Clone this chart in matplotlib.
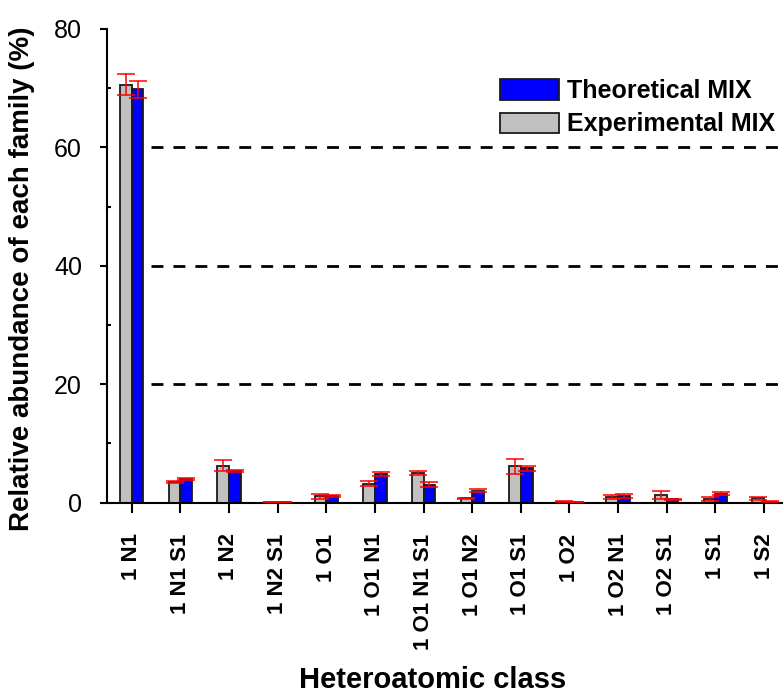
import matplotlib
matplotlib.use("Agg")
import matplotlib.pyplot as plt
import numpy as np

plt.rcParams['font.family'] = ['Liberation Sans', 'DejaVu Sans']
plt.rcParams['lines.scale_dashes'] = False

# heteroatomic classes
classes = ['1 N1', '1 N1 S1', '1 N2', '1 N2 S1', '1 O1', '1 O1 N1', '1 O1 N1 S1',
           '1 O1 N2', '1 O1 S1', '1 O2', '1 O2 N1', '1 O2 S1', '1 S1', '1 S2']

# experimental MIX (grey) with error
exp_vals = [70.6, 3.4, 6.2, 0.1, 1.05, 3.2, 5.0, 0.7, 6.1, 0.15, 0.9, 1.3, 0.6, 0.7]
exp_err = [1.8, 0.15, 0.9, 0.05, 0.4, 0.4, 0.4, 0.1, 1.3, 0.05, 0.3, 0.7, 0.3, 0.2]

# theoretical MIX (blue) with error
theo_vals = [69.8, 4.0, 5.3, 0.05, 1.1, 4.8, 3.0, 2.0, 5.8, 0.05, 1.05, 0.55, 1.5, 0.15]
theo_err = [1.47, 0.15, 0.2, 0.03, 0.1, 0.35, 0.4, 0.2, 0.4, 0.02, 0.35, 0.1, 0.25, 0.05]

grid_levels = [20, 40, 60]

fig = plt.figure(figsize=(7.83, 6.93), dpi=100)
ax = fig.add_axes([107/783, 1 - 502.5/693, 676/783, 473.5/693])

x = np.arange(len(classes))
w = 0.24

# dashed reference lines
ax.hlines(grid_levels, 0.39, 13.6, colors='black', linewidth=2,
          linestyles=[(0, (8.6, 7.2))], zorder=1)

eb = dict(ecolor='red', elinewidth=1.1, capsize=6.5, capthick=1.1)
ax.bar(x - w/2, exp_vals, w, color='#C0C0C0', edgecolor='#1a1a1a', linewidth=1.3,
       label='Experimental MIX', zorder=2)
ax.bar(x + w/2, theo_vals, w, color='#0000FF', edgecolor='#1a1a1a', linewidth=1.3,
       label='Theoretical MIX', zorder=2)
ax.errorbar(x - w/2, exp_vals, yerr=exp_err, fmt='none', zorder=3, **eb)
ax.errorbar(x + w/2, theo_vals, yerr=theo_err, fmt='none', zorder=3, **eb)

ax.set_xlim(-0.508, 13.39)
ax.set_ylim(0, 80)
ax.set_yticks([0, 20, 40, 60, 80])
ax.set_yticks([10, 30, 50, 70], minor=True)
ax.set_xticks(x)
ax.set_xticklabels(classes, rotation=90, fontsize=16, fontweight='bold')

for s in ['top', 'right']:
    ax.spines[s].set_visible(False)
for s in ['left', 'bottom']:
    ax.spines[s].set_linewidth(1.5)

ax.tick_params(axis='y', which='major', direction='out', length=5, width=1.5,
               labelsize=18, pad=13)
ax.tick_params(axis='y', which='minor', direction='in', length=3, width=1.5)
ax.tick_params(axis='x', which='major', direction='out', length=7.3, width=1.5, pad=15)

ax.set_ylabel('Relative abundance of each family (%)', fontsize=20, fontweight='bold')
ax.yaxis.set_label_coords(-0.1065, 0.473)
ax.set_xlabel('Heteroatomic class', fontsize=21, fontweight='bold')
ax.xaxis.set_label_coords(0.482, -0.345)

handles, labels = ax.get_legend_handles_labels()
ax.legend(handles[::-1], labels[::-1], loc='upper left',
          bbox_to_anchor=(500/783, 1 - 79/693), bbox_transform=fig.transFigure,
          frameon=False, prop={'weight': 'bold', 'size': 18},
          handlelength=2.36, handleheight=0.88, handletextpad=0.32,
          labelspacing=0.38, borderpad=0, borderaxespad=0)

fig.savefig('out.png', dpi=100)
